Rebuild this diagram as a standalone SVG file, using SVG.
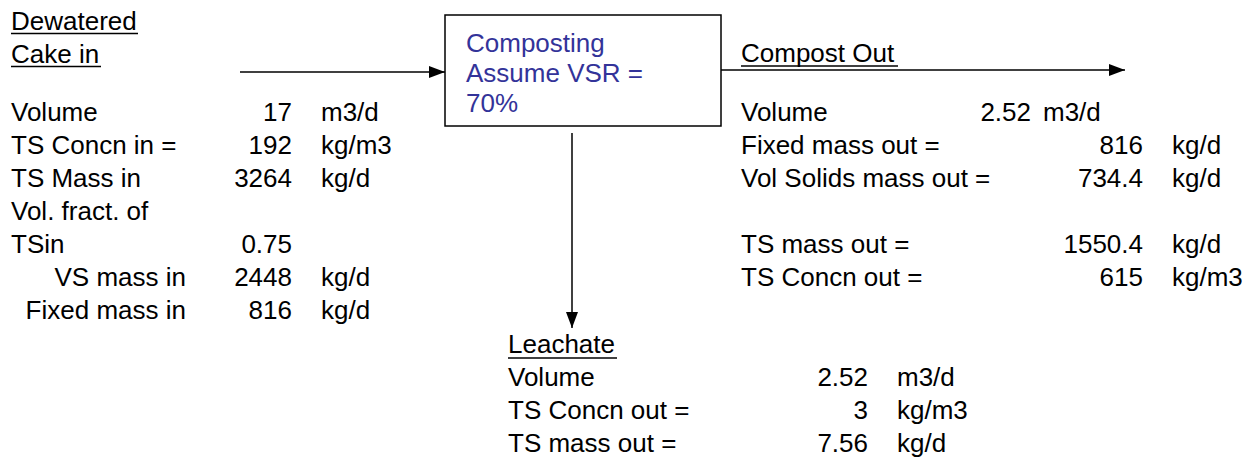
<svg xmlns="http://www.w3.org/2000/svg" width="1253" height="462" viewBox="0 0 1253 462">
<defs>
<style>
text{font-family:"Liberation Sans",Arial,sans-serif;font-size:26px;fill:#000}
.b{fill:#333399}
.e{text-anchor:end}
.u{stroke:#000;stroke-width:1.5}
.c{stroke:#000;stroke-width:1.5;fill:none}
</style>
<marker id="ah" markerWidth="16" markerHeight="12" refX="16" refY="6" orient="auto" markerUnits="userSpaceOnUse">
<path d="M0,0 L16,6 L0,12 Z" fill="#000"/>
</marker>
</defs>
<rect width="1253" height="462" fill="#fff"/>
<g id="connectors">
<line class="c" x1="240" y1="72" x2="445" y2="72" marker-end="url(#ah)"/>
<line class="c" x1="721" y1="70" x2="1125" y2="70" marker-end="url(#ah)"/>
<line class="c" x1="572" y1="133" x2="572" y2="328" marker-end="url(#ah)"/>
</g>
<g id="composting">
<rect x="445" y="15" width="276" height="111" fill="#fff" stroke="#000" stroke-width="1.5"/>
<text class="b" x="466" y="52">Composting</text>
<text class="b" x="466" y="82">Assume VSR =</text>
<text class="b" x="466" y="112">70%</text>
</g>
<g id="cake-in">
<text x="11" y="30">Dewatered</text>
<line class="u" x1="11" y1="33.5" x2="138" y2="33.5"/>
<text x="11" y="63">Cake in</text>
<line class="u" x1="11" y1="66.5" x2="101" y2="66.5"/>
<text x="11" y="121">Volume</text><text class="e" x="292" y="121">17</text><text x="321" y="121">m3/d</text>
<text x="11" y="154">TS Concn in =</text><text class="e" x="292" y="154">192</text><text x="321" y="154">kg/m3</text>
<text x="11" y="187">TS Mass in</text><text class="e" x="292" y="187">3264</text><text x="321" y="187">kg/d</text>
<text x="11" y="220">Vol. fract. of</text>
<text x="11" y="253">TSin</text><text class="e" x="292" y="253">0.75</text>
<text class="e" x="186" y="286">VS mass in</text><text class="e" x="292" y="286">2448</text><text x="321" y="286">kg/d</text>
<text class="e" x="186" y="319">Fixed mass in</text><text class="e" x="292" y="319">816</text><text x="321" y="319">kg/d</text>
</g>
<g id="compost-out">
<text x="741" y="62">Compost Out</text>
<line class="u" x1="741" y1="66" x2="898" y2="66"/>
<text x="741" y="121">Volume</text><text class="e" x="1031" y="121">2.52</text><text x="1043" y="121">m3/d</text>
<text x="741" y="154">Fixed mass out =</text><text class="e" x="1143" y="154">816</text><text x="1172" y="154">kg/d</text>
<text x="741" y="187">Vol Solids mass out =</text><text class="e" x="1143" y="187">734.4</text><text x="1172" y="187">kg/d</text>
<text x="741" y="253">TS mass out =</text><text class="e" x="1143" y="253">1550.4</text><text x="1172" y="253">kg/d</text>
<text x="741" y="286">TS Concn out =</text><text class="e" x="1143" y="286">615</text><text x="1172" y="286">kg/m3</text>
</g>
<g id="leachate">
<text x="508" y="353">Leachate</text>
<line class="u" x1="508" y1="358" x2="617" y2="358"/>
<text x="508" y="386">Volume</text><text class="e" x="868" y="386">2.52</text><text x="897" y="386">m3/d</text>
<text x="508" y="419">TS Concn out =</text><text class="e" x="868" y="419">3</text><text x="897" y="419">kg/m3</text>
<text x="508" y="452">TS mass out =</text><text class="e" x="868" y="452">7.56</text><text x="897" y="452">kg/d</text>
</g>
</svg>
